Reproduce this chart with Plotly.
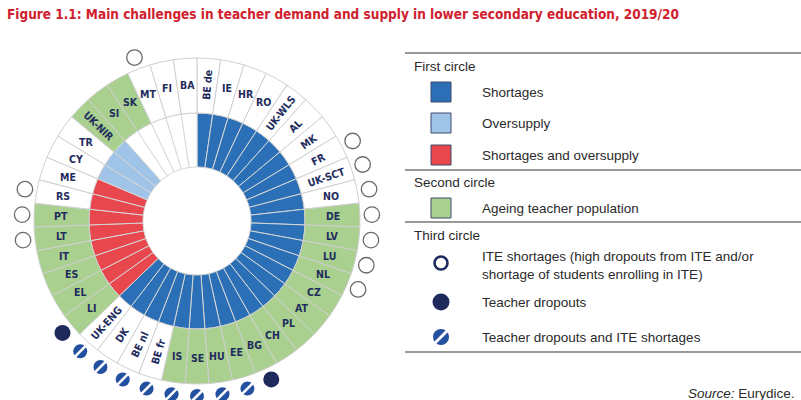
import math
import plotly.graph_objects as go

# ---------------- data ----------------
countries = ["BE de", "IE", "HR", "RO", "UK-WLS", "AL", "MK", "FR", "UK-SCT", "NO",
             "DE", "LV", "LU", "NL", "CZ", "AT", "PL", "CH", "BG", "EE", "HU", "SE", "IS",
             "BE fr", "BE nl", "DK", "UK-ENG", "LI", "EL", "ES", "IT", "LT", "PT", "RS", "ME",
             "CY", "TR", "UK-NIR", "SI", "SK", "MT", "FI", "BA"]

# First circle
shortages = ["BE de", "IE", "HR", "RO", "UK-WLS", "AL", "MK", "FR", "UK-SCT", "NO",
             "DE", "LV", "LU", "NL", "CZ", "AT", "PL", "CH", "BG", "EE", "HU", "SE", "IS",
             "BE fr", "BE nl", "DK", "UK-ENG"]
oversupply = ["CY", "TR", "UK-NIR"]
shortages_and_oversupply = ["LI", "EL", "ES", "IT", "LT", "PT", "RS", "ME"]

# Second circle
ageing = ["DE", "LV", "LU", "NL", "CZ", "AT", "PL", "CH", "BG", "EE", "HU", "SE", "IS",
          "LI", "EL", "ES", "IT", "LT", "PT", "UK-NIR", "SI", "SK"]

# Third circle
ite_shortages = ["FR", "UK-SCT", "NO", "DE", "LV", "LU", "NL", "LT", "PT", "RS", "MT"]
teacher_dropouts = ["BG", "LI"]
dropouts_and_ite = ["EE", "HU", "SE", "IS", "BE fr", "BE nl", "DK", "UK-ENG"]

# labels drawn along the radius (style)
radial_labels = {"BE de", "UK-WLS", "AL", "MK", "FR", "UK-SCT",
                 "BE fr", "BE nl", "DK", "UK-ENG", "UK-NIR"}

# ---------------- styles / geometry ----------------
W, H = 801, 400
CX, CY = 197, 221          # centre of the wheel (px)
R = 179                    # radial range (px)
R_IN, R_MID, R_OUT, R_MARK = 54, 108, 163, 175

C_SHORT = "#2b70b6"
C_OVER = "#9fc4e8"
C_BOTH = "#e8474d"
C_AGE = "#a9d08e"
C_NAVY = "#1f2a5c"
C_STRIPE = "#2450a0"
C_TXT = "#1f2d5e"
NARROW = "DejaVu Sans Condensed, Liberation Sans Narrow, sans-serif"
SANS = "Liberation Sans, Arial, sans-serif"

n = len(countries)
step = 360.0 / n


def first_color(c):
    if c in shortages:
        return C_SHORT
    if c in oversupply:
        return C_OVER
    if c in shortages_and_oversupply:
        return C_BOTH
    return "white"


fig = go.Figure()

# first circle
fig.add_trace(go.Barpolar(
    theta=countries, r=[R_MID - R_IN] * n, base=[R_IN] * n,
    marker=dict(color=[first_color(c) for c in countries],
                line=dict(color="#d6d6d6", width=1)),
    hoverinfo="theta", showlegend=False))

# second circle
fig.add_trace(go.Barpolar(
    theta=countries, r=[R_OUT - R_MID] * n, base=[R_MID] * n,
    marker=dict(color=[C_AGE if c in ageing else "white" for c in countries],
                line=dict(color="#cfcfcf", width=1)),
    hoverinfo="theta", showlegend=False))

# third circle
fig.add_trace(go.Scatterpolar(
    theta=ite_shortages, r=[R_MARK] * len(ite_shortages), mode="markers",
    marker=dict(symbol="circle", size=15.5, color="white",
                line=dict(color="#6b6b6b", width=1.3)),
    cliponaxis=False, showlegend=False))
fig.add_trace(go.Scatterpolar(
    theta=teacher_dropouts, r=[R_MARK] * len(teacher_dropouts), mode="markers",
    marker=dict(symbol="circle", size=16, color=C_NAVY, line=dict(width=0)),
    cliponaxis=False, showlegend=False))
fig.add_trace(go.Scatterpolar(
    theta=dropouts_and_ite, r=[R_MARK] * len(dropouts_and_ite), mode="markers",
    marker=dict(symbol="circle", size=14, color=C_STRIPE, line=dict(width=0)),
    cliponaxis=False, showlegend=False))
fig.add_trace(go.Scatterpolar(
    theta=dropouts_and_ite, r=[R_MARK] * len(dropouts_and_ite), mode="markers",
    marker=dict(symbol="line-ne", size=13, color="white",
                line=dict(color="white", width=2.6)),
    cliponaxis=False, showlegend=False, hoverinfo="skip"))

# legend markers (pixel-like cartesian axes x2/y2)
fig.add_trace(go.Scatter(
    x=[441], y=[263], xaxis="x2", yaxis="y2", mode="markers",
    marker=dict(symbol="circle", size=13, color="white", line=dict(color=C_NAVY, width=2.6)),
    showlegend=False, hoverinfo="skip"))
fig.add_trace(go.Scatter(
    x=[441], y=[302], xaxis="x2", yaxis="y2", mode="markers",
    marker=dict(symbol="circle", size=17, color=C_NAVY, line=dict(width=0)),
    showlegend=False, hoverinfo="skip"))
fig.add_trace(go.Scatter(
    x=[441], y=[337], xaxis="x2", yaxis="y2", mode="markers",
    marker=dict(symbol="circle", size=16, color=C_STRIPE, line=dict(width=0)),
    showlegend=False, hoverinfo="skip"))
fig.add_trace(go.Scatter(
    x=[441], y=[337], xaxis="x2", yaxis="y2", mode="markers",
    marker=dict(symbol="line-ne", size=15, color="white", line=dict(color="white", width=2.8)),
    showlegend=False, hoverinfo="skip"))

annotations = []
shapes = []

# ring labels
R_LAB = (R_MID + R_OUT) / 2 + 1
for i, c in enumerate(countries):
    th = (i + 0.5) * step
    x = CX + R_LAB * math.sin(math.radians(th))
    y = CY - R_LAB * math.cos(math.radians(th))
    rot = 0
    if c in radial_labels:
        rot = th - 90 if th < 180 else th - 270
    annotations.append(dict(
        x=x, y=y, xref="x2", yref="y2", text="<b>" + c + "</b>", showarrow=False, textangle=rot,
        font=dict(family=NARROW, size=10.5, color=C_TXT), xanchor="center", yanchor="middle"))

# title
annotations.append(dict(
    x=5, y=14, xref="x2", yref="y2", xanchor="left", yanchor="middle", showarrow=False,
    text="<b>Figure 1.1: Main challenges in teacher demand and supply in lower secondary education, 2019/20</b>",
    font=dict(family=NARROW, size=13.5, color="#d0202e")))

# legend panel
for yl in [53, 170, 222, 352]:
    shapes.append(dict(type="line", xref="x2", yref="y2", x0=405, x1=801, y0=yl, y1=yl,
                       line=dict(color="#777777", width=1.5)))

sq = [(92, C_SHORT, "Shortages"), (123, C_OVER, "Oversupply"),
      (155, C_BOTH, "Shortages and oversupply"), (208, C_AGE, "Ageing teacher population")]
for yc, col, lab in sq:
    shapes.append(dict(type="rect", xref="x2", yref="y2", x0=431, x1=451, y0=yc - 10, y1=yc + 10,
                       fillcolor=col, line=dict(color="#3b4a6e", width=1)))
    annotations.append(dict(x=480, y=yc, xref="x2", yref="y2", text=lab, showarrow=False,
                            xanchor="left", yanchor="middle",
                            font=dict(family=SANS, size=13.5, color="#2a2a2a")))

heads = [(66, "First circle"), (182, "Second circle"), (235, "Third circle")]
for yc, lab in heads:
    annotations.append(dict(x=412, y=yc, xref="x2", yref="y2", text=lab, showarrow=False,
                            xanchor="left", yanchor="middle",
                            font=dict(family=SANS, size=13.5, color="#2a2a2a")))

third = [(265, "ITE shortages (high dropouts from ITE and/or<br>shortage of students enrolling in ITE)"),
         (302, "Teacher dropouts"), (337, "Teacher dropouts and ITE shortages")]
for yc, lab in third:
    annotations.append(dict(x=480, y=yc, xref="x2", yref="y2", text=lab, showarrow=False,
                            xanchor="left", yanchor="middle", align="left",
                            font=dict(family=SANS, size=13.5, color="#2a2a2a")))

annotations.append(dict(x=797, y=393, xref="x2", yref="y2", text="<i>Source:</i> Eurydice.",
                        showarrow=False, xanchor="right", yanchor="middle",
                        font=dict(family=SANS, size=13.5, color="#2a2a2a")))

fig.update_layout(
    width=W, height=H, margin=dict(l=0, r=0, t=0, b=0),
    template="none", paper_bgcolor="white", plot_bgcolor="rgba(0,0,0,0)",
    showlegend=False,
    polar=dict(
        domain=dict(x=[(CX - R) / W, (CX + R) / W], y=[(H - CY - R) / H, (H - CY + R) / H]),
        bgcolor="rgba(0,0,0,0)", bargap=0,
        radialaxis=dict(range=[0, R], visible=False),
        angularaxis=dict(visible=False, type="category", categoryarray=countries,
                         direction="clockwise", rotation=90 - step / 2),
    ),
    xaxis2=dict(domain=[0, 1], range=[0, W], visible=False, fixedrange=True, anchor="y2"),
    yaxis2=dict(domain=[0, 1], range=[H, 0], visible=False, fixedrange=True, anchor="x2"),
    annotations=annotations, shapes=shapes,
)

fig.write_html("out.html", config={"displayModeBar": False},
               post_script="document.body.style.margin='0px';document.body.style.overflow='hidden';")
